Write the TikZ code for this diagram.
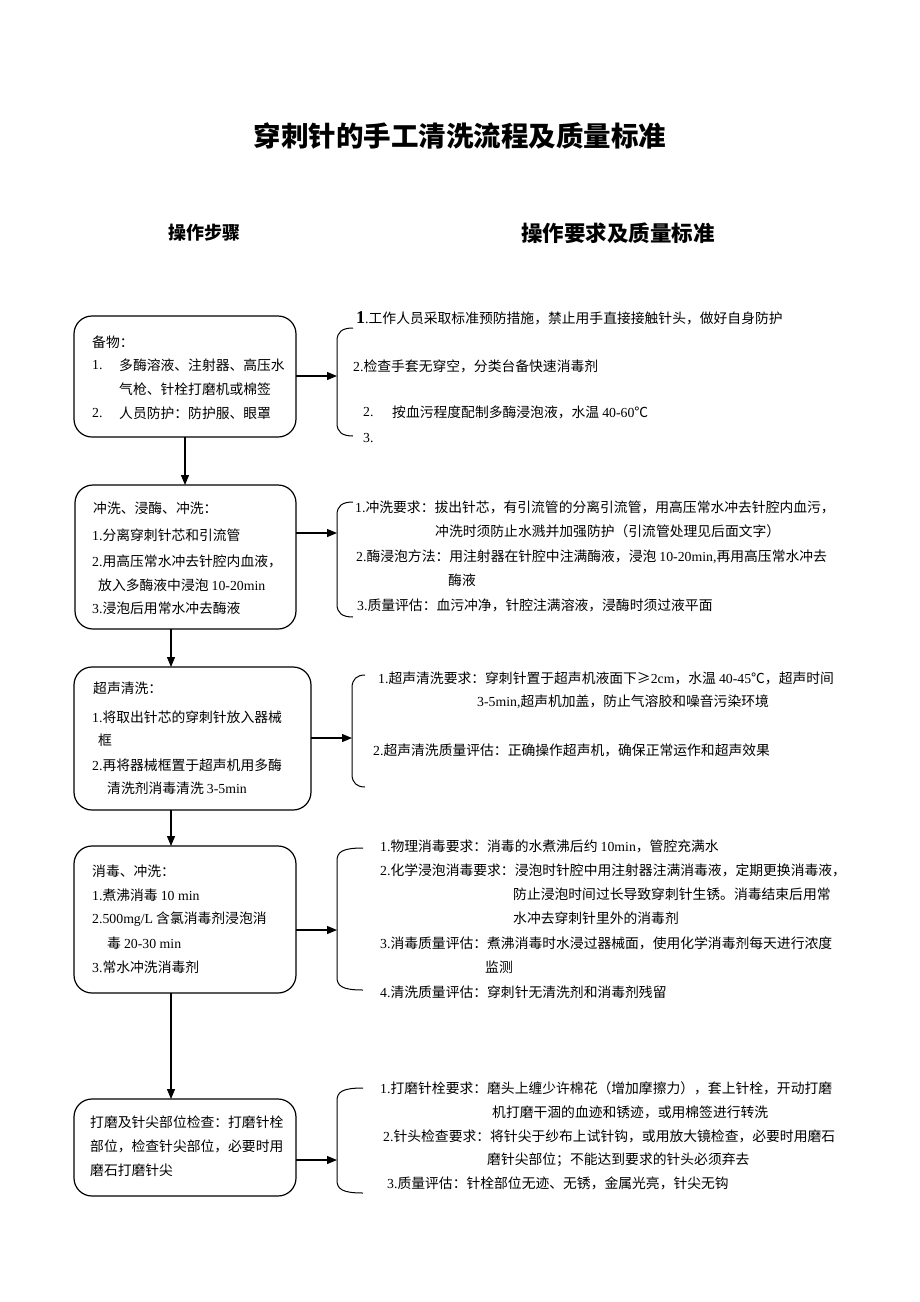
\documentclass[tikz,border=0pt]{standalone}
\usepackage{fontspec}
\setmainfont{Noto Sans CJK SC}
\newfontfamily\tnr{Liberation Serif}
\usetikzlibrary{arrows.meta}
\newcommand\lt[1]{{\tnr #1}}
\newcommand\mybrace[4]{%
  \draw[brc] (#4,#2) .. controls (#1+5,#2) and (#1,#2+4) .. (#1,#2+13) -- (#1,#3-13) .. controls (#1,#3-4) and (#1+5,#3) .. (#4,#3);}
\begin{document}
\begin{tikzpicture}[x=1pt,y=-1pt,
  box/.style={draw, line width=1.2pt, rounded corners=18pt, inner sep=0pt, outer sep=0pt},
  txt/.style={anchor=west, inner sep=0pt, font=\fontsize{13.8}{16}\selectfont},
  arr/.style={line width=1.2pt, -{Triangle[length=10pt,width=8pt]}},
  brc/.style={line width=1pt}]
\useasboundingbox[fill=white] (0,0) rectangle (920,1302);

% headings
\node[font=\fontsize{27.5}{30}\selectfont\bfseries] (title) at (460,136) {穿刺针的手工清洗流程及质量标准};
\node[font=\fontsize{18}{20}\selectfont\bfseries] (h1) at (204,233) {操作步骤};
\node[font=\fontsize{21.5}{24}\selectfont\bfseries] (h2) at (618,233) {操作要求及质量标准};

% boxes
\node[box, minimum width=222pt, minimum height=121pt] (b1) at (185,376.5) {};
\node[box, minimum width=221pt, minimum height=144pt] (b2) at (185.5,557) {};
\node[box, minimum width=237pt, minimum height=143pt] (b3) at (192.5,738.5) {};
\node[box, minimum width=222pt, minimum height=147pt] (b4) at (185,919.5) {};
\node[box, minimum width=222pt, minimum height=97pt] (b5) at (185,1147.5) {};

% vertical connectors
\coordinate (xa) at (185,0);
\coordinate (xb) at (171,0);
\draw[arr] (b1.south -| xa) -- (b2.north -| xa);
\draw[arr] (b2.south -| xb) -- (b3.north -| xb);
\draw[arr] (b3.south -| xb) -- (b4.north -| xb);
\draw[arr] (b4.south -| xb) -- (b5.north -| xb);

% braces
\mybrace{337}{328}{436}{353}
\mybrace{337}{502}{617}{353}
\mybrace{352}{675}{787}{365}
\mybrace{337}{848}{990}{363}
\mybrace{337}{1088}{1193}{363}
\coordinate (m1) at (337,376);
\coordinate (m2) at (337,533);
\coordinate (m3) at (352,738);
\coordinate (m4) at (337,930);
\coordinate (m5) at (337,1160);
\draw[arr] (b1.east |- m1) -- (m1);
\draw[arr] (b2.east |- m2) -- (m2);
\draw[arr] (b3.east |- m3) -- (m3);
\draw[arr] (b4.east |- m4) -- (m4);
\draw[arr] (b5.east |- m5) -- (m5);

% box 1 text
\node[txt] (t11) at (92,342) {备物：};
\node[txt] (t12) at (92,365) {\lt{1.}};
\node[txt] (t13) at (119,365) {多酶溶液、注射器、高压水};
\node[txt] (t14) at (119,389) {气枪、针栓打磨机或棉签};
\node[txt] (t15) at (92,413) {\lt{2.}};
\node[txt] (t16) at (119,413) {人员防护：防护服、眼罩};

% box 2 text
\node[txt] (t21) at (93,508) {冲洗、浸酶、冲洗：};
\node[txt] (t22) at (92,535) {\lt{1.}分离穿刺针芯和引流管};
\node[txt] (t23) at (92,561) {\lt{2.}用高压常水冲去针腔内血液，};
\node[txt] (t24) at (98,585) {放入多酶液中浸泡 \lt{10-20min}};
\node[txt] (t25) at (92,608) {\lt{3.}浸泡后用常水冲去酶液};

% box 3 text
\node[txt] (t31) at (93,688) {超声清洗：};
\node[txt] (t32) at (92,717) {\lt{1.}将取出针芯的穿刺针放入器械};
\node[txt] (t33) at (98,740) {框};
\node[txt] (t34) at (92,765) {\lt{2.}再将器械框置于超声机用多酶};
\node[txt] (t35) at (107,788) {清洗剂消毒清洗 \lt{3-5min}};

% box 4 text
\node[txt] (t41) at (92,871) {消毒、冲洗：};
\node[txt] (t42) at (92,895) {\lt{1.}煮沸消毒 \lt{10 min}};
\node[txt] (t43) at (92,919) {\lt{2.500mg/L} 含氯消毒剂浸泡消};
\node[txt] (t44) at (107,943) {毒 \lt{20-30 min}};
\node[txt] (t45) at (92,967) {\lt{3.}常水冲洗消毒剂};

% box 5 text
\node[txt] (t51) at (90,1122) {打磨及针尖部位检查：打磨针栓};
\node[txt] (t52) at (90,1146) {部位，检查针尖部位，必要时用};
\node[txt] (t53) at (90,1170) {磨石打磨针尖};

% right block 1
\node[txt] (r11) at (356,318) {{\tnr\bfseries\fontsize{18}{20}\selectfont 1}\lt{.}工作人员采取标准预防措施，禁止用手直接接触针头，做好自身防护};
\node[txt] (r12) at (353,366) {\lt{2.}检查手套无穿空，分类台备快速消毒剂};
\node[txt] (r13) at (363,412) {\lt{2.}};
\node[txt] (r14) at (392,412) {按血污程度配制多酶浸泡液，水温 \lt{40-60}℃};
\node[txt] (r15) at (363,438) {\lt{3.}};

% right block 2
\node[txt] (r21) at (355,507) {\lt{1.}冲洗要求：拔出针芯，有引流管的分离引流管，用高压常水冲去针腔内血污，};
\node[txt] (r22) at (435,531) {冲洗时须防止水溅并加强防护（引流管处理见后面文字）};
\node[txt] (r23) at (356,557) {\lt{2.}酶浸泡方法：用注射器在针腔中注满酶液，浸泡 \lt{10-20min,}再用高压常水冲去};
\node[txt] (r24) at (448,580) {酶液};
\node[txt] (r25) at (357,605) {\lt{3.}质量评估：血污冲净，针腔注满溶液，浸酶时须过液平面};

% right block 3
\node[txt] (r31) at (378,678) {\lt{1.}超声清洗要求：穿刺针置于超声机液面下≥\lt{2cm}，水温 \lt{40-45}℃，超声时间};
\node[txt] (r32) at (477,702) {\lt{3-5min,}超声机加盖，防止气溶胶和噪音污染环境};
\node[txt] (r33) at (373,750) {\lt{2.}超声清洗质量评估：正确操作超声机，确保正常运作和超声效果};

% right block 4
\node[txt] (r41) at (380,846) {\lt{1.}物理消毒要求：消毒的水煮沸后约 \lt{10min}，管腔充满水};
\node[txt] (r42) at (380,870) {\lt{2.}化学浸泡消毒要求：浸泡时针腔中用注射器注满消毒液，定期更换消毒液，};
\node[txt] (r43) at (513,894) {防止浸泡时间过长导致穿刺针生锈。消毒结束后用常};
\node[txt] (r44) at (513,918) {水冲去穿刺针里外的消毒剂};
\node[txt] (r45) at (380,943) {\lt{3.}消毒质量评估：煮沸消毒时水浸过器械面，使用化学消毒剂每天进行浓度};
\node[txt] (r46) at (485,967) {监测};
\node[txt] (r47) at (380,992) {\lt{4.}清洗质量评估：穿刺针无清洗剂和消毒剂残留};

% right block 5
\node[txt] (r51) at (380,1088) {\lt{1.}打磨针栓要求：磨头上缠少许棉花（增加摩擦力），套上针栓，开动打磨};
\node[txt] (r52) at (492,1112) {机打磨干涸的血迹和锈迹，或用棉签进行转洗};
\node[txt] (r53) at (383,1136) {\lt{2.}针头检查要求：将针尖于纱布上试针钩，或用放大镜检查，必要时用磨石};
\node[txt] (r54) at (487,1160) {磨针尖部位；不能达到要求的针头必须弃去};
\node[txt] (r55) at (387,1183) {\lt{3.}质量评估：针栓部位无迹、无锈，金属光亮，针尖无钩};
\end{tikzpicture}
\end{document}
